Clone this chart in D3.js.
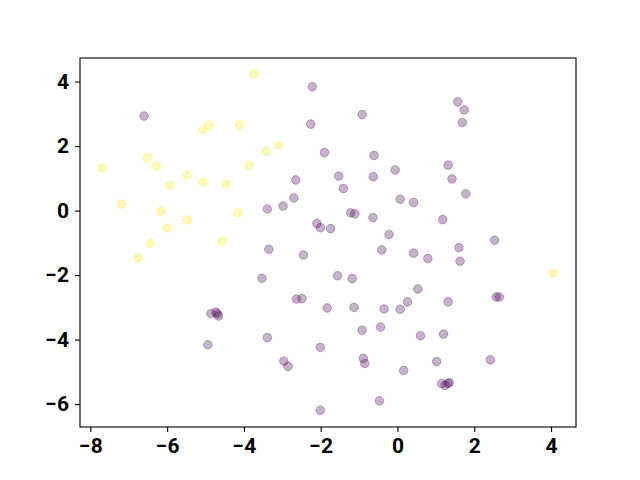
<!DOCTYPE html>
<meta charset="utf-8">
<script src="https://d3js.org/d3.v7.min.js"></script>
<style>
  body { margin: 0; background: #fff; }
  .tick text { font-family: Roboto, sans-serif; font-weight: bold; font-size: 21px; }
</style>
<div id="my_dataviz"></div>
<script>

// class 0 points (dark purple)
var purpleX = [-6.60, -2.22, -0.92, -2.26, -1.90, -0.61, -0.06, 1.57, 1.74, 1.69, 1.32, 1.42, 1.78,
  -2.65, -1.53, -0.63, -1.41, 0.07, 0.42, -2.70, -2.98, -3.39, -1.22, -1.11, -0.64, -2.10, -2.01, -1.74,
  -0.22, 1.18, 2.53, 1.60, 0.42, 0.79, 1.63, -3.35, -2.45, -0.41, -3.53, -1.56, -1.18, 0.53,
  -2.63, -2.49, 0.26, 1.32, 2.57, 2.65, -1.83, -1.13, -0.35, 0.07, -0.92, -0.44, 0.60, 1.20,
  -3.39, -2.01, -4.86, -4.73, -4.69, -4.66, -4.94, -2.96, -2.85, -0.89, -0.85, 0.16, 1.02, 2.42,
  1.15, 1.24, 1.35, 1.31, -0.47, -2.01];
var purpleY = [2.93, 3.84, 2.98, 2.68, 1.80, 1.71, 1.26, 3.37, 3.12, 2.73, 1.41, 0.98, 0.52,
  0.95, 1.07, 1.05, 0.68, 0.35, 0.25, 0.39, 0.14, 0.05, -0.07, -0.10, -0.22, -0.40, -0.53, -0.56,
  -0.74, -0.28, -0.92, -1.15, -1.32, -1.49, -1.57, -1.20, -1.38, -1.22, -2.10, -2.02, -2.11, -2.43,
  -2.74, -2.73, -2.83, -2.83, -2.68, -2.68, -3.02, -3.00, -3.05, -3.06, -3.71, -3.61, -3.88, -3.83,
  -3.94, -4.24, -3.19, -3.15, -3.20, -3.27, -4.16, -4.67, -4.83, -4.58, -4.74, -4.96, -4.68, -4.63,
  -5.36, -5.42, -5.33, -5.36, -5.90, -6.19];

// class 1 points (yellow)
var yellowX = [-3.74, -7.70, -7.20, -6.52, -6.29, -6.16, -6.44, -6.76, -5.92, -6.00, -5.48, -5.48,
  -5.07, -4.91, -5.07, -4.47, -4.57, -4.12, -4.15, -3.87, -3.42, -3.09, 4.05];
var yellowY = [4.23, 1.32, 0.20, 1.63, 1.38, -0.02, -1.01, -1.47, 0.79, -0.54, 1.10, -0.29,
  2.50, 2.65, 0.88, 0.82, -0.95, 2.65, -0.08, 1.41, 1.84, 2.03, -1.94];

var xTicks = [-8, -6, -4, -2, 0, 2, 4];
var yTicks = [-6, -4, -2, 0, 2, 4];

var margin = {top: 58, right: 64, bottom: 53, left: 80},
    width = 640 - margin.left - margin.right,
    height = 480 - margin.top - margin.bottom;

var svg = d3.select("#my_dataviz")
  .append("svg")
    .attr("width", 640)
    .attr("height", 480)
  .append("g")
    .attr("transform", "translate(" + margin.left + "," + margin.top + ")");

var x = d3.scaleLinear().domain([-8.27, 4.65]).range([0, width]);
var y = d3.scaleLinear().domain([-6.71, 4.73]).range([height, 0]);

var points = [];
purpleX.forEach(function(v, i) { points.push({x: v, y: purpleY[i], c: "#440154"}); });
yellowX.forEach(function(v, i) { points.push({x: v, y: yellowY[i], c: "#fde725"}); });

svg.selectAll("dots")
  .data(points)
  .enter()
  .append("circle")
    .attr("cx", function(d) { return x(d.x); })
    .attr("cy", function(d) { return y(d.y); })
    .attr("r", 4.3)
    .style("fill", function(d) { return d.c; })
    .style("fill-opacity", 0.3)
    .style("stroke", function(d) { return d.c; })
    .style("stroke-opacity", 0.3)
    .style("stroke-width", 1);

// axes, minus sign like matplotlib
var fmt = function(d) { return d < 0 ? "\u2212" + (-d) : d; };
var xAxis = svg.append("g")
  .attr("transform", "translate(0," + height + ")")
  .call(d3.axisBottom(x).tickValues(xTicks).tickSize(5).tickPadding(6).tickFormat(fmt));
var yAxis = svg.append("g")
  .call(d3.axisLeft(y).tickValues(yTicks).tickSize(5).tickPadding(6).tickFormat(fmt));

[xAxis, yAxis].forEach(function(a) {
  a.select(".domain").remove();
  a.selectAll(".tick line").attr("stroke", "#000").attr("stroke-width", 1.1);
  a.selectAll(".tick text").attr("fill", "#000");
});

// frame
svg.append("rect")
  .attr("x", 0).attr("y", 0)
  .attr("width", width).attr("height", height)
  .style("fill", "none")
  .style("stroke", "#000")
  .style("stroke-width", 1.1);

</script>
